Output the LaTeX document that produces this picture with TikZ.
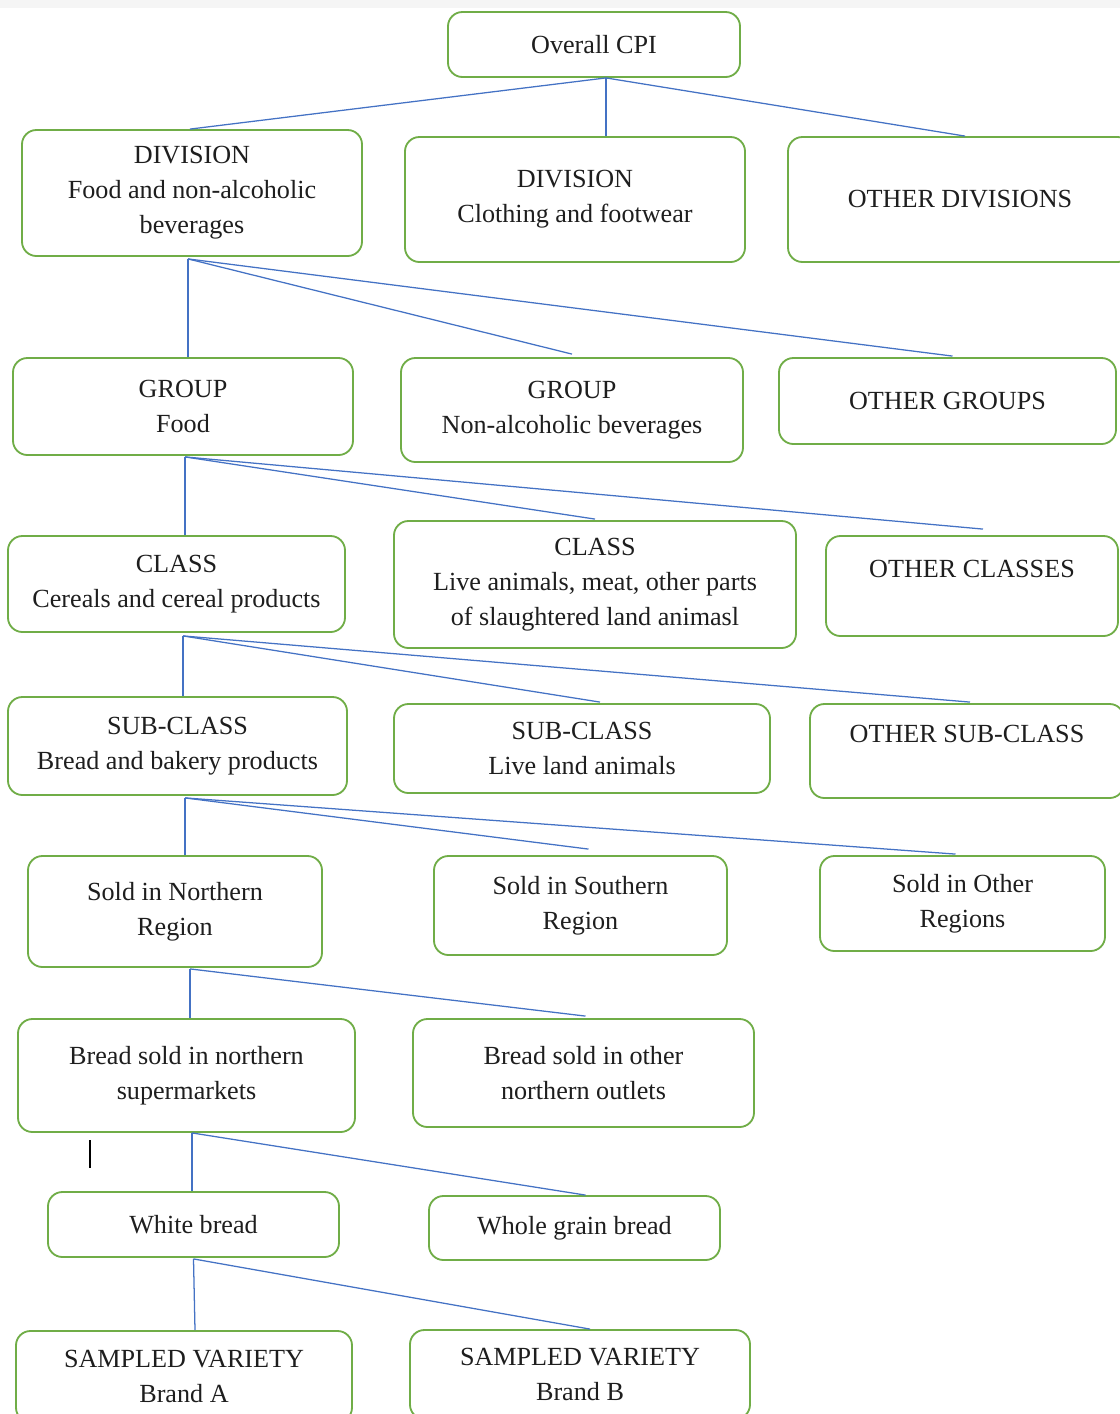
\documentclass[tikz,border=0pt]{standalone}
\usepackage{fontspec}
\setmainfont{Liberation Serif}
\usepackage{xcolor}
\usetikzlibrary{calc}
\definecolor{boxgreen}{HTML}{70AD47}
\definecolor{linkblue}{HTML}{4472C4}
\definecolor{txt}{HTML}{1E1E1E}
\tikzset{
  cpibox/.style={draw=boxgreen,fill=white,line width=1.3pt,rounded corners=3.6mm,
                 align=center,inner sep=1pt,text=txt,
                 font=\fontsize{18.6}{25}\selectfont},
  link/.style={draw=linkblue,line width=0.9pt}
}

\begin{document}
\begin{tikzpicture}[x=0.25mm,y=-0.25mm]
  \useasboundingbox (0,0) rectangle (1120,1414);
  \clip (0,0) rectangle (1120,1414);
  \fill[black!4] (0,0) rectangle (1120,8);

  % level 0 and divisions
  \node[cpibox,minimum width=73mm,minimum height=16.25mm] (cpi) at (594,44.5) {Overall CPI};
  \node[cpibox,minimum width=85mm,minimum height=31.5mm] (divfood) at (192,193) {DIVISION\\Food and non-alcoholic\\beverages};
  \node[cpibox,minimum width=85mm,minimum height=31.25mm] (divcloth) at (575,199.5) {DIVISION\\Clothing and footwear};
  \node[cpibox,minimum width=86mm,minimum height=31.25mm] (divother) at (960,199.5) {OTHER DIVISIONS};

  % groups
  \node[cpibox,minimum width=85mm,minimum height=24.25mm] (grpfood) at (183,406.5) {GROUP\\Food};
  \node[cpibox,minimum width=85.5mm,minimum height=26mm] (grpbev) at (572,410) {GROUP\\Non-alcoholic beverages};
  \node[cpibox,minimum width=84.25mm,minimum height=21.5mm] (grpother) at (947.5,401) {OTHER GROUPS};

  % classes
  \node[cpibox,minimum width=84.25mm,minimum height=24mm] (clscereal) at (176.5,584) {CLASS\\Cereals and cereal products};
  \node[cpibox,minimum width=100.5mm,minimum height=31.75mm] (clslive) at (595,584.5) {CLASS\\Live animals, meat, other parts\\of slaughtered land animasl};
  \node[cpibox,minimum width=73mm,minimum height=25mm] (clsother) at (972,586) {OTHER CLASSES\\~};

  % sub-classes
  \node[cpibox,minimum width=84.75mm,minimum height=24.5mm] (subbread) at (177.5,746) {SUB-CLASS\\Bread and bakery products};
  \node[cpibox,minimum width=94mm,minimum height=22.25mm] (sublive) at (582,748.5) {SUB-CLASS\\Live land animals};
  \node[cpibox,minimum width=78.5mm,minimum height=23.5mm] (subother) at (967,751) {OTHER SUB-CLASS\\~};

  % regions
  \node[cpibox,minimum width=73.5mm,minimum height=27.75mm] (regnorth) at (175,911.5) {Sold in Northern\\Region};
  \node[cpibox,minimum width=73.25mm,minimum height=24.75mm] (regsouth) at (580.5,905.5) {Sold in Southern\\Region};
  \node[cpibox,minimum width=71.25mm,minimum height=23.75mm] (regother) at (962.5,903.5) {Sold in Other\\Regions};

  % outlets
  \node[cpibox,minimum width=84.25mm,minimum height=28.25mm] (supmkt) at (186.5,1075.5) {Bread sold in northern\\supermarkets};
  \node[cpibox,minimum width=85.25mm,minimum height=27mm] (outlets) at (583.5,1073) {Bread sold in other\\northern outlets};

  % products and varieties
  \node[cpibox,minimum width=72.75mm,minimum height=16.25mm] (white) at (193.5,1224.5) {White bread};
  \node[cpibox,minimum width=72.75mm,minimum height=16mm] (wholegrain) at (574.5,1228) {Whole grain bread};
  \node[cpibox,minimum width=84mm,minimum height=22.75mm] (brandA) at (184,1376.5) {SAMPLED VARIETY\\Brand A};
  \node[cpibox,minimum width=85mm,minimum height=22.25mm] (brandB) at (580,1374.5) {SAMPLED VARIETY\\Brand B};

  % branch points
  \coordinate (hcpi) at ($(cpi.south)+(12,0)$);
  \coordinate (hdiv) at ($(divfood.south)+(-4,2)$);
  \coordinate (hgrp) at ($(grpfood.south)+(2,1)$);
  \coordinate (hcls) at ($(clscereal.south)+(6.5,3)$);
  \coordinate (hsub) at ($(subbread.south)+(7.5,2)$);
  \coordinate (hreg) at ($(regnorth.south)+(15,1)$);
  \coordinate (hsup) at ($(supmkt.south)+(5.5,0)$);
  \coordinate (hwht) at ($(white.south)+(0,1)$);

  \draw[link] (hcpi) -- ($(divfood.north)+(-2,0)$);
  \draw[link] (hcpi) -- (hcpi |- divcloth.north);
  \draw[link] (hcpi) -- ($(divother.north)+(5,0)$);

  \draw[link] (hdiv) -- (hdiv |- grpfood.north);
  \draw[link] (hdiv) -- ($(grpbev.north)+(0,-3)$);
  \draw[link] (hdiv) -- ($(grpother.north)+(5,-1)$);

  \draw[link] (hgrp) -- (hgrp |- clscereal.north);
  \draw[link] (hgrp) -- ($(clslive.north)+(0,-1)$);
  \draw[link] (hgrp) -- ($(clsother.north)+(11,-6)$);

  \draw[link] (hcls) -- (hcls |- subbread.north);
  \draw[link] (hcls) -- ($(sublive.north)+(18,-1)$);
  \draw[link] (hcls) -- ($(subother.north)+(3,-1)$);

  \draw[link] (hsub) -- (hsub |- regnorth.north);
  \draw[link] (hsub) -- ($(regsouth.north)+(8,-6)$);
  \draw[link] (hsub) -- ($(regother.north)+(-7,-1)$);

  \draw[link] (hreg) -- (hreg |- supmkt.north);
  \draw[link] (hreg) -- ($(outlets.north)+(2,-2)$);

  \draw[link] (hsup) -- (hsup |- white.north);
  \draw[link] (hsup) -- ($(wholegrain.north)+(11,0)$);

  \draw[link] (hwht) -- ($(brandA.north)+(11,0)$);
  \draw[link] (hwht) -- ($(brandB.north)+(10,0)$);

  % text cursor
  \draw[black,line width=1.3pt] (90,1140) -- (90,1168);
\end{tikzpicture}
\end{document}
